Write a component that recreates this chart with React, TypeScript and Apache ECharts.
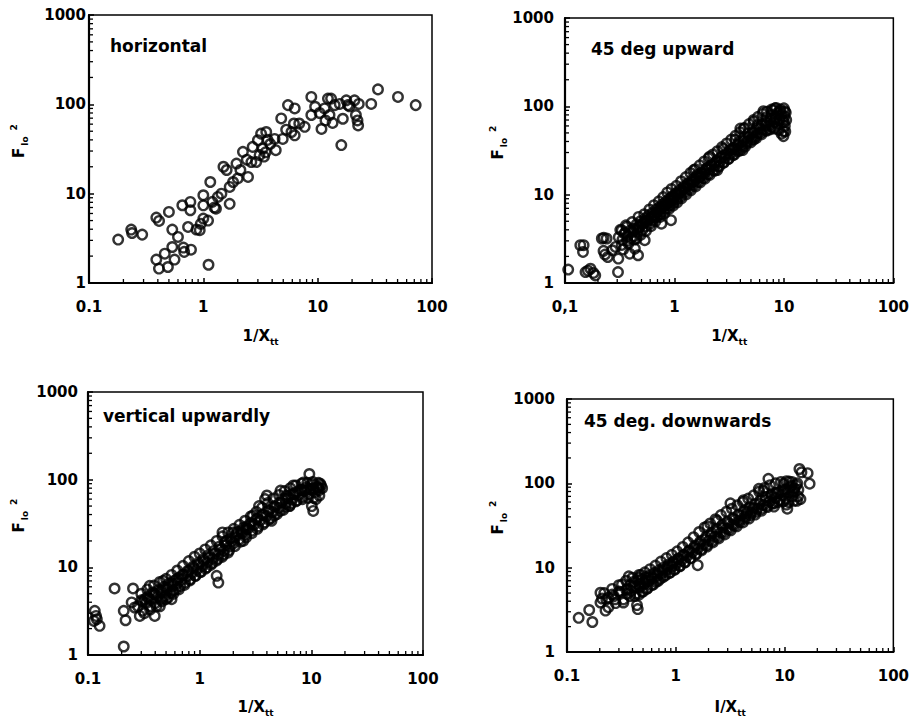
import React, { useEffect, useRef } from "react";
import * as echarts from "echarts";

const panelTitles = ["horizontal", "45 deg upward", "vertical upwardly", "45 deg. downwards"];
const xAxisNames = ["1/X", "1/X", "1/X", "I/X"];
const xMin = 0.1;
const xMax = 100;
const yMin = 1;
const yMax = 1000;
const minorMultipliers = [2, 3, 4, 5, 6, 7, 8, 9];
const xDecades = [0.1, 1, 10];
const yDecades = [1, 10, 100];

const horizontalData = [
  [0.18, 3.06], [0.234, 3.96], [0.238, 3.63], [0.292, 3.48], [0.388, 5.4], [0.41, 4.95], [0.5, 6.25],
  [0.388, 1.83], [0.409, 1.45], [0.46, 2.13], [0.49, 1.51], [0.535, 3.96], [0.535, 2.53], [0.56, 1.83],
  [0.6, 3.28], [0.655, 7.42], [0.67, 2.49], [0.68, 2.23], [0.735, 4.24], [0.77, 8.09], [0.77, 6.52],
  [0.78, 2.36], [0.87, 3.96], [0.93, 3.9], [1.0, 9.6], [1.0, 5.26], [1.0, 7.4], [1.1, 5.0], [1.11, 1.6],
  [1.15, 13.5], [1.2, 8.1], [1.29, 6.8], [1.34, 9.2], [1.44, 10.0], [1.7, 7.7], [1.5, 20], [1.6, 18.4],
  [1.7, 11.9], [1.82, 13.5], [1.95, 21.7], [2.0, 14.8], [2.11, 18.4], [2.22, 29.4], [2.46, 15.4],
  [2.63, 22.6], [2.7, 33.4], [2.9, 22.6], [3.0, 39.7], [3.1, 27], [3.2, 47], [3.3, 32], [3.4, 26],
  [3.55, 49], [3.65, 40], [3.85, 36], [4.2, 41], [4.3, 30.7], [4.8, 69.5], [4.95, 41], [5.3, 52],
  [5.5, 98], [5.9, 49], [6.2, 61], [6.3, 90], [6.3, 45], [6.9, 61], [7.7, 56], [8.8, 121], [8.8, 76],
  [9.5, 94], [10.4, 80], [10.8, 53], [11.5, 90], [11.7, 66], [12.3, 116], [12.7, 76], [13.1, 116],
  [14.1, 98], [15.6, 101], [16.1, 35], [16.6, 69], [17.8, 111], [18.4, 98], [21, 111], [21.6, 76],
  [22.3, 66], [22.6, 58], [22.9, 101], [29.4, 101], [33.7, 147], [50.4, 121], [72, 98],
  [3.5, 29], [2.4, 24], [1.25, 7.0], [0.95, 4.6], [13.5, 62], [19, 95]
];

const upward45Data = [
  [0.107, 1.42], [0.138, 2.68], [0.148, 2.68], [0.146, 2.25], [0.154, 1.33], [0.171, 1.45], [0.162, 1.38],
  [0.189, 1.22], [0.182, 1.3], [0.217, 3.19], [0.24, 3.19], [0.226, 3.25], [0.225, 2.31], [0.232, 2.1],
  [0.246, 1.97], [0.307, 1.89], [0.305, 1.33], [0.29, 2.56], [0.27, 2.35], [0.33, 3.96], [0.366, 4.32],
  [0.352, 3.7], [0.39, 2.15], [0.435, 2.45], [0.465, 2.06], [0.45, 3.19], [0.465, 4.32], [0.535, 3.05],
  [0.55, 5.14], [0.659, 5.61], [0.76, 4.7], [0.93, 5.14], [0.97, 8.7],
  [0.31, 3.3], [0.33, 2.7], [0.35, 3.6], [0.37, 3.0], [0.39, 3.9], [0.40, 3.2], [0.42, 4.1], [0.43, 3.4],
  [0.45, 4.6], [0.46, 3.8], [0.48, 4.3], [0.49, 5.0], [0.51, 4.0], [0.52, 4.8], [0.54, 5.4], [0.55, 4.4],
  [0.57, 5.1], [0.58, 5.8], [0.60, 4.7], [0.61, 5.5], [0.63, 6.2], [0.64, 5.2], [0.66, 5.9], [0.68, 6.8],
  [0.69, 5.6], [0.71, 6.4], [0.73, 7.2], [0.74, 6.0], [0.76, 6.9], [0.78, 7.8], [0.79, 6.5], [0.81, 7.4],
  [0.83, 8.3], [0.85, 7.0], [0.87, 8.0], [0.89, 8.9], [0.91, 7.6], [0.93, 8.6], [0.96, 9.6], [0.98, 8.1],
  [1.00, 9.3], [1.03, 10.4], [1.05, 8.8], [1.08, 10.0], [1.11, 11.2], [1.14, 9.6], [1.17, 10.9], [1.21, 12.3],
  [1.24, 10.6], [1.28, 12.0], [1.32, 13.4], [1.36, 11.6], [1.40, 13.1], [1.45, 14.7], [1.49, 12.7], [1.54, 14.4],
  [1.59, 16.1], [1.64, 13.9], [1.70, 15.8], [1.76, 17.8], [1.82, 15.4], [1.88, 17.5], [1.95, 19.6], [2.02, 17.0],
  [2.09, 19.3], [2.17, 21.7], [2.25, 18.8], [2.33, 21.4], [2.42, 24.0], [2.51, 20.8], [2.60, 23.7], [2.70, 26.6],
  [2.80, 23.0], [2.91, 26.3], [3.02, 29.5], [3.14, 25.6], [3.26, 29.2], [3.39, 32.8], [3.52, 28.4], [3.66, 32.4],
  [3.80, 36.5], [3.95, 31.6], [4.10, 36.0], [4.26, 40.6], [4.43, 35.2], [4.60, 40.1], [4.78, 45.2], [4.97, 39.2],
  [5.16, 44.7], [5.36, 50.3], [5.57, 43.6], [5.79, 49.7], [6.02, 55.8], [6.25, 48.3], [6.50, 55.0], [6.75, 61.5],
  [7.01, 53.2], [7.28, 60.4], [7.56, 67.4], [7.85, 58.4], [8.15, 66.0], [8.46, 73.5], [8.78, 63.8], [9.10, 71.8],
  [9.45, 80.0], [9.80, 69.5], [10.1, 77.0], [10.4, 85.0],
  [7.98, 91], [8.3, 95], [10.0, 95], [9.5, 49], [10.3, 52], [10.5, 70], [9.9, 46], [7.7, 80], [6.5, 88],
  [5.3, 67], [4.0, 56], [4.3, 56], [4.2, 32], [5.3, 42], [2.46, 19], [2.1, 27], [1.5, 19], [1.73, 16],
  [9.2, 88], [10.2, 60], [8.8, 85], [6.9, 75], [5.8, 62], [3.6, 42], [2.8, 33],
  [0.32, 4.0], [0.36, 4.5], [0.41, 4.9], [0.47, 5.6], [0.53, 6.0], [0.59, 6.8], [0.65, 7.6], [0.72, 8.4],
  [0.79, 9.4], [0.86, 10.6], [0.94, 11.6], [1.04, 12.6], [1.15, 14.2], [1.27, 15.8], [1.4, 17.6], [1.55, 19.4],
  [1.7, 21.5], [1.87, 23.8], [2.05, 26.0], [2.25, 28.5], [2.47, 31.0], [2.72, 34.6], [3.0, 38.0], [3.3, 42.0],
  [3.62, 46.5], [3.98, 51.0], [4.38, 57.0], [4.8, 63.0], [5.3, 70.0], [5.8, 76.0], [6.4, 82.0], [7.0, 87.0],
  [7.7, 92.0], [8.5, 96.0], [9.3, 92.0], [10.2, 88.0],
  [0.34, 2.4], [0.38, 2.8], [0.43, 3.1], [0.49, 3.5], [0.55, 3.9], [0.61, 4.4], [0.67, 5.0], [0.74, 5.6],
  [0.81, 6.2], [0.89, 6.9], [0.97, 7.5], [1.06, 8.2], [1.16, 9.1], [1.28, 10.1], [1.41, 11.2], [1.56, 12.4],
  [1.72, 13.8], [1.9, 15.2], [2.1, 16.8], [2.32, 18.6], [2.56, 20.8], [2.82, 23.0], [3.1, 25.3], [3.42, 28.0],
  [3.77, 31.0], [4.16, 34.2], [4.58, 38.0], [5.05, 42.0], [5.57, 46.0], [6.14, 50.0], [6.77, 53.0], [7.46, 55.0],
  [8.2, 56.0], [9.0, 54.0], [9.9, 52.0],
  [0.335, 3.1], [0.375, 3.4], [0.415, 3.8], [0.455, 4.1], [0.505, 4.6], [0.56, 5.0], [0.62, 5.6], [0.69, 6.4],
  [0.76, 7.2], [0.84, 7.8], [0.93, 9.2], [1.02, 9.9], [1.12, 10.8], [1.23, 12.0], [1.35, 13.2], [1.48, 14.0],
  [1.63, 16.8], [1.8, 17.2], [1.98, 20.0], [2.18, 21.0], [2.4, 23.5], [2.64, 26.5], [2.9, 28.0], [3.2, 32.0],
  [3.5, 34.0], [3.85, 39.0], [4.25, 43.0], [4.7, 49.0], [5.2, 51.0], [5.7, 58.0], [6.3, 62.0], [6.9, 65.0],
  [7.6, 71.0], [8.4, 76.0], [9.2, 70.0], [10.0, 66.0]
];

const verticalData = [
  [0.115, 3.19], [0.118, 2.79], [0.113, 2.45], [0.12, 2.56], [0.127, 2.15], [0.173, 5.74], [0.209, 3.19],
  [0.217, 2.49], [0.209, 1.25], [0.253, 5.74], [0.246, 3.98], [0.262, 3.48], [0.291, 2.79], [0.323, 4.33],
  [0.357, 6.15], [0.38, 5.16], [0.396, 2.79], [0.44, 3.6], [0.471, 7.02], [0.5, 4.33], [0.56, 4.33],
  [0.58, 5.4], [1.42, 8.0], [1.47, 6.7],
  [0.28, 3.6], [0.30, 4.2], [0.31, 3.2], [0.33, 3.9], [0.34, 4.6], [0.36, 3.6], [0.37, 4.3], [0.39, 5.0],
  [0.40, 3.9], [0.42, 4.7], [0.43, 5.5], [0.45, 4.3], [0.46, 5.1], [0.48, 6.0], [0.49, 4.7], [0.51, 5.6],
  [0.53, 6.5], [0.55, 5.1], [0.57, 6.1], [0.59, 7.0], [0.61, 5.6], [0.63, 6.6], [0.65, 7.6], [0.67, 6.1],
  [0.69, 7.2], [0.72, 8.3], [0.74, 6.7], [0.77, 7.9], [0.80, 9.1], [0.82, 7.3], [0.85, 8.6], [0.88, 9.9],
  [0.91, 8.0], [0.94, 9.4], [0.98, 10.8], [1.01, 8.8], [1.05, 10.3], [1.09, 11.9], [1.13, 9.7], [1.17, 11.4],
  [1.21, 13.1], [1.26, 10.7], [1.31, 12.6], [1.36, 14.5], [1.41, 11.9], [1.47, 14.0], [1.53, 16.1], [1.59, 13.2],
  [1.65, 15.5], [1.72, 17.9], [1.79, 14.7], [1.86, 17.3], [1.94, 19.9],
  [2.02, 18.9], [2.10, 22.2], [2.19, 25.5], [2.28, 21.0], [2.38, 24.7], [2.48, 28.5], [2.59, 23.5], [2.70, 27.6],
  [2.82, 31.7], [2.94, 26.2], [3.07, 30.8], [3.20, 35.5], [3.34, 29.2], [3.49, 34.4], [3.64, 39.6], [3.80, 32.5],
  [3.97, 38.3], [4.14, 44.0], [4.32, 36.3], [4.51, 42.8], [4.71, 49.2], [4.92, 40.6], [5.14, 47.7], [5.37, 55.0],
  [5.61, 45.3], [5.86, 53.2], [6.12, 61.3], [6.39, 50.6], [6.67, 59.6], [6.97, 68.5], [7.28, 56.6], [7.61, 66.5],
  [7.95, 76.5], [8.30, 63.2], [8.67, 74.3], [9.06, 82.0], [9.46, 68.0], [9.88, 78.0], [10.3, 88.0], [10.8, 72.0],
  [11.3, 82.0], [11.8, 76.0], [12.2, 86.0],
  [9.6, 116], [10.4, 44], [10.1, 50], [11.5, 82], [12.0, 90], [8.5, 93], [6.9, 86], [6.4, 50], [6.0, 66],
  [5.3, 75], [4.4, 34], [4.0, 66], [3.85, 60], [3.4, 50], [3.0, 39], [2.6, 27], [2.45, 20], [2.0, 25],
  [1.75, 20], [1.6, 25], [11.0, 60], [12.5, 80],
  [0.3, 5.0], [0.34, 5.6], [0.39, 6.2], [0.44, 6.8], [0.5, 7.4], [0.56, 8.2], [0.63, 9.2], [0.71, 10.4],
  [0.8, 11.8], [0.9, 13.2], [1.0, 14.4], [1.12, 16.0], [1.26, 17.8], [1.42, 20.0], [1.6, 22.6], [1.8, 25.0],
  [2.02, 27.5], [2.27, 30.5], [2.55, 34.0], [2.87, 38.0], [3.22, 43.0], [3.62, 48.0], [4.07, 54.0], [4.57, 61.0],
  [5.13, 67.0], [5.77, 74.0], [6.48, 80.0], [7.28, 86.0], [8.18, 90.0], [9.2, 92.0], [10.3, 94.0], [11.6, 92.0],
  [0.32, 3.0], [0.36, 3.3], [0.41, 3.6], [0.46, 4.1], [0.52, 4.5], [0.58, 5.0], [0.65, 5.6], [0.73, 6.3],
  [0.82, 7.1], [0.92, 8.0], [1.03, 8.9], [1.16, 10.0], [1.3, 11.2], [1.46, 12.5], [1.64, 14.0], [1.84, 15.7],
  [2.07, 17.5], [2.32, 19.6], [2.61, 22.0], [2.93, 24.5], [3.29, 27.5], [3.7, 31.0], [4.15, 35.0], [4.66, 39.0],
  [5.24, 44.0], [5.88, 49.0], [6.6, 54.0], [7.42, 58.0], [8.33, 60.0], [9.36, 62.0], [10.5, 62.0], [11.8, 66.0],
  [0.31, 4.1], [0.35, 4.4], [0.4, 4.9], [0.45, 5.4], [0.5, 5.9], [0.56, 6.6], [0.62, 7.3], [0.7, 8.2],
  [0.78, 9.1], [0.87, 10.2], [0.97, 11.2], [1.08, 12.4], [1.2, 13.8], [1.34, 15.4], [1.5, 17.2], [1.68, 19.2],
  [1.88, 21.0], [2.1, 23.5], [2.35, 26.0], [2.63, 29.0], [2.94, 32.0], [3.3, 36.0], [3.7, 40.0], [4.14, 45.0],
  [4.64, 50.0], [5.2, 55.0], [5.82, 61.0], [6.52, 67.0], [7.3, 72.0], [8.18, 76.0], [9.16, 78.0], [10.26, 80.0],
  [11.5, 80.0]
];

const downward45Data = [
  [0.128, 2.54], [0.16, 3.15], [0.171, 2.27], [0.203, 5.04], [0.203, 3.86], [0.226, 3.1], [0.21, 4.3],
  [0.24, 4.4], [0.278, 4.22], [0.26, 4.8], [0.32, 6.3], [0.33, 3.86], [0.3, 5.2], [0.37, 7.9], [0.35, 5.5],
  [0.447, 3.23], [0.44, 3.6], [0.48, 8.2], [0.46, 7.6], [1.59, 10.7],
  [0.36, 4.9], [0.38, 6.2], [0.39, 5.3], [0.41, 6.8], [0.42, 4.6], [0.43, 5.8], [0.45, 7.0], [0.46, 4.8],
  [0.47, 5.9], [0.49, 7.3], [0.50, 5.2], [0.51, 6.4], [0.53, 7.7], [0.54, 5.6], [0.56, 6.9], [0.58, 8.1],
  [0.60, 6.2], [0.62, 7.4], [0.64, 8.7], [0.66, 6.8], [0.68, 8.0], [0.70, 9.3], [0.72, 7.4], [0.75, 8.7],
  [0.77, 10.0], [0.80, 8.1], [0.83, 9.5], [0.86, 10.9], [0.89, 8.8], [0.92, 10.3], [0.95, 11.8], [0.98, 9.6],
  [1.01, 11.2], [1.05, 12.8], [1.09, 10.5], [1.13, 12.3], [1.17, 14.1], [1.21, 11.6], [1.26, 13.6], [1.31, 15.6],
  [1.36, 12.9], [1.41, 15.1], [1.47, 17.3], [1.53, 14.3], [1.59, 16.8], [1.65, 19.3], [1.72, 16.0], [1.79, 18.7],
  [1.86, 21.5], [1.94, 17.8], [2.02, 20.9], [2.10, 24.0], [2.19, 19.9], [2.28, 23.3], [2.38, 26.8], [2.48, 22.2],
  [2.59, 26.0], [2.70, 29.9], [2.82, 24.8], [2.94, 29.0], [3.07, 33.4], [3.20, 27.7], [3.34, 32.4], [3.49, 37.2],
  [3.64, 30.9], [3.80, 36.2], [3.97, 41.5], [4.14, 34.4], [4.32, 40.3], [4.51, 46.2], [4.71, 38.3], [4.92, 44.8],
  [5.14, 51.4], [5.37, 42.6], [5.61, 49.8], [5.86, 57.2], [6.12, 47.3], [6.39, 55.2], [6.67, 63.3], [6.97, 52.3],
  [7.28, 61.0], [7.61, 70.0], [7.95, 57.6], [8.30, 67.0], [8.67, 77.0], [9.06, 63.0], [9.46, 73.0], [9.88, 84.0],
  [10.3, 67.0], [10.8, 78.0], [11.3, 90.0], [11.8, 70.0], [12.3, 82.0], [12.8, 95.0],
  [13.7, 148], [14.3, 135], [16.3, 132], [17, 99], [13.3, 70], [7.1, 113], [8.2, 75], [8.0, 53], [10.4, 56],
  [9.8, 99], [11.6, 94], [12.3, 87], [3.18, 58], [4.2, 63], [4.5, 44], [5.2, 50], [5.8, 86], [6.4, 82],
  [2.4, 36], [1.95, 31], [11, 105], [13, 62], [10.6, 50], [14, 65],
  [0.22, 5.0], [0.26, 5.6], [0.3, 6.2], [0.35, 7.0], [0.4, 7.6], [0.46, 8.2], [0.52, 8.8], [0.58, 9.6],
  [0.65, 10.6], [0.73, 11.8], [0.82, 13.0], [0.92, 14.2], [1.03, 15.6], [1.16, 17.6], [1.3, 20.0], [1.46, 23.0],
  [1.64, 26.5], [1.84, 30.0], [2.07, 33.5], [2.32, 37.5], [2.6, 42.0], [2.92, 46.0], [3.28, 50.0], [3.68, 55.0],
  [4.13, 60.0], [4.63, 66.0], [5.2, 72.0], [5.84, 80.0], [6.55, 88.0], [7.35, 95.0], [8.25, 100.0], [9.26, 104.0],
  [10.4, 106.0], [11.7, 104.0], [13.1, 100.0],
  [0.24, 3.4], [0.28, 3.8], [0.33, 4.2], [0.38, 4.6], [0.43, 4.9], [0.49, 5.2], [0.55, 5.7], [0.62, 6.3],
  [0.69, 7.0], [0.77, 7.8], [0.87, 8.6], [0.97, 9.4], [1.09, 10.4], [1.22, 11.6], [1.37, 13.0], [1.54, 14.7],
  [1.73, 16.6], [1.94, 18.6], [2.17, 20.8], [2.44, 23.2], [2.74, 26.0], [3.07, 28.5], [3.45, 31.5], [3.87, 34.5],
  [4.34, 38.0], [4.87, 42.0], [5.47, 46.0], [6.14, 50.0], [6.89, 54.0], [7.73, 58.0], [8.68, 60.0], [9.74, 61.0],
  [10.9, 60.0], [12.2, 62.0],
  [0.23, 4.2], [0.27, 4.6], [0.31, 5.1], [0.36, 5.6], [0.41, 6.0], [0.47, 6.5], [0.53, 7.0], [0.6, 7.7],
  [0.67, 8.5], [0.75, 9.4], [0.84, 10.3], [0.94, 11.4], [1.06, 12.6], [1.19, 14.2], [1.33, 16.0], [1.5, 18.2],
  [1.68, 20.5], [1.89, 23.0], [2.12, 25.8], [2.38, 28.8], [2.67, 32.0], [3.0, 35.0], [3.36, 38.5], [3.77, 42.5],
  [4.23, 47.0], [4.75, 52.0], [5.33, 57.0], [5.98, 63.0], [6.71, 69.0], [7.53, 74.0], [8.45, 78.0], [9.48, 80.0],
  [10.6, 82.0], [11.9, 80.0], [13.4, 84.0]
];

const panelData = [horizontalData, upward45Data, verticalData, downward45Data];

const layouts = [
  { left: 89, top: 15, width: 343, height: 268, yLabelMargin: 3, yNameGap: 60, titleLeft: 110, titleTop: 37, xNameGap: 43 },
  { left: 565, top: 18, width: 333, height: 265, yLabelMargin: 11, yNameGap: 57, titleLeft: 591, titleTop: 40, xNameGap: 43 },
  { left: 88, top: 392, width: 335, height: 263, yLabelMargin: 10, yNameGap: 59, titleLeft: 103, titleTop: 407, xNameGap: 42 },
  { left: 567, top: 399, width: 331, height: 259, yLabelMargin: 12, yNameGap: 59, titleLeft: 584, titleTop: 412, xNameGap: 45 },
];

const FONT = "DejaVu Sans";

function buildOption() {
  const xMinor: number[][] = [];
  xDecades.forEach((d) => minorMultipliers.forEach((m) => xMinor.push([m * d, yMin])));
  const yMinor: number[][] = [];
  yDecades.forEach((d) => minorMultipliers.forEach((m) => yMinor.push([xMin, m * d])));

  const grid: any[] = [];
  const xAxis: any[] = [];
  const yAxis: any[] = [];
  const series: any[] = [];
  const title: any[] = [];

  layouts.forEach((L, i) => {
    grid.push({
      left: L.left, top: L.top, width: L.width, height: L.height,
      show: true, borderColor: "#000", borderWidth: 1.5, backgroundColor: "transparent",
      containLabel: false,
    });
    const labelStyle = { color: "#000", fontFamily: FONT, fontWeight: "bold", fontSize: 15 };
    xAxis.push({
      type: "log", logBase: 10, gridIndex: i, min: xMin, max: xMax,
      axisLine: { show: true, onZero: false, lineStyle: { color: "#000", width: 2.2 } },
      axisTick: { show: true, inside: true, length: 5, lineStyle: { color: "#000", width: 1.5 } },
      splitLine: { show: false },
      axisLabel: {
        ...labelStyle, margin: 16,
        formatter: (v: number) => (v < 0.5 ? (i === 1 ? "0,1" : "0.1") : String(Math.round(v))),
      },
      name: `{a|${xAxisNames[i]}}{s|tt}`,
      nameLocation: "middle",
      nameGap: L.xNameGap,
      nameTextStyle: {
        rich: {
          a: { fontFamily: FONT, fontWeight: "bold", fontSize: 15, lineHeight: 20, color: "#000" },
          s: { fontFamily: FONT, fontWeight: "bold", fontSize: 9, lineHeight: 12, verticalAlign: "bottom", color: "#000" },
        },
      },
    });
    yAxis.push({
      type: "log", logBase: 10, gridIndex: i, min: yMin, max: yMax,
      axisLine: { show: true, onZero: false, lineStyle: { color: "#000", width: 2.2 } },
      axisTick: { show: true, inside: true, length: 5, lineStyle: { color: "#000", width: 1.5 } },
      splitLine: { show: false },
      axisLabel: { ...labelStyle, margin: L.yLabelMargin, formatter: (v: number) => String(Math.round(v)) },
      name: "{a|F}{s|lo}{p|2}",
      nameLocation: "middle",
      nameGap: L.yNameGap,
      nameTextStyle: {
        padding: [0, 0, 0, 16],
        rich: {
          a: { fontFamily: FONT, fontWeight: "bold", fontSize: 15, lineHeight: 20, color: "#000" },
          s: { fontFamily: FONT, fontWeight: "bold", fontSize: 9, lineHeight: 12, verticalAlign: "bottom", color: "#000", padding: [0, 0, 0, 2] },
          p: { fontFamily: FONT, fontWeight: "bold", fontSize: 9, lineHeight: 12, verticalAlign: "top", color: "#000", padding: [0, 0, 0, 6] },
        },
      },
    });
    title.push({
      text: panelTitles[i], left: L.titleLeft, top: L.titleTop, padding: 0,
      textStyle: { fontFamily: FONT, fontWeight: "bold", fontSize: 17, color: "#000" },
    });
    series.push({
      type: "custom", xAxisIndex: i, yAxisIndex: i, data: xMinor, silent: true, z: 1,
      renderItem: (_p: any, api: any) => {
        const pt = api.coord([api.value(0), api.value(1)]);
        return { type: "line", shape: { x1: pt[0], y1: pt[1], x2: pt[0], y2: pt[1] - 4 }, style: { stroke: "#000", lineWidth: 1.3 } };
      },
    });
    series.push({
      type: "custom", xAxisIndex: i, yAxisIndex: i, data: yMinor, silent: true, z: 1,
      renderItem: (_p: any, api: any) => {
        const pt = api.coord([api.value(0), api.value(1)]);
        return { type: "line", shape: { x1: pt[0], y1: pt[1], x2: pt[0] + 4, y2: pt[1] }, style: { stroke: "#000", lineWidth: 1.3 } };
      },
    });
    series.push({
      type: "scatter", xAxisIndex: i, yAxisIndex: i, data: panelData[i], z: 3,
      symbol: "circle", symbolSize: 9.5,
      itemStyle: { color: "rgba(0,0,0,0)", borderColor: "#000", borderWidth: 2.4 },
    });
  });

  return { animation: false, backgroundColor: "#fff", title, grid, xAxis, yAxis, series };
}

export default function App() {
  const ref = useRef<HTMLDivElement>(null);
  useEffect(() => {
    if (!ref.current) return;
    const chart = echarts.init(ref.current, undefined, { renderer: "svg" });
    chart.setOption(buildOption() as any);
    return () => chart.dispose();
  }, []);
  return (
    <div
      ref={ref}
      style={{ position: "absolute", left: 0, top: 0, width: 912, height: 718, background: "#fff" }}
    />
  );
}
